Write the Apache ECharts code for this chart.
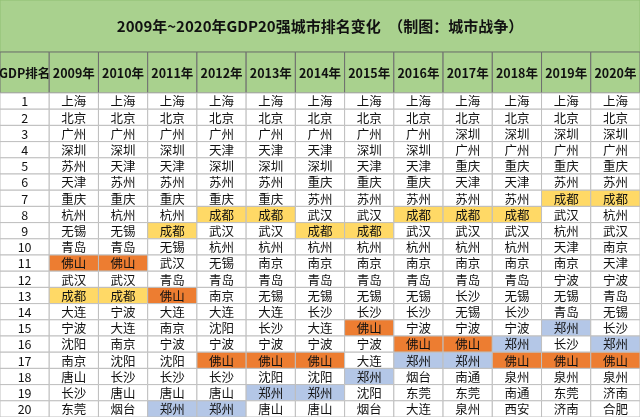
<!DOCTYPE html>
<html><head><meta charset="utf-8">
<script src="https://cdn.jsdelivr.net/npm/echarts@6/dist/echarts.min.js"></script>
<style>html,body{margin:0;padding:0;background:#fff}#c{width:640px;height:417px}</style>
</head><body><div id="c"></div>
<script>
const titleText = '2009年~2020年GDP20强城市排名变化　（制图：城市战争）';
const headers = ['GDP排名','2009年','2010年','2011年','2012年','2013年','2014年','2015年','2016年','2017年','2018年','2019年','2020年'];
const ranks = ['1','2','3','4','5','6','7','8','9','10','11','12','13','14','15','16','17','18','19','20'];
const y2009 = ['上海','北京','广州','深圳','苏州','天津','重庆','杭州','无锡','青岛','佛山','武汉','成都','大连','宁波','沈阳','南京','唐山','长沙','东莞'];
const y2010 = ['上海','北京','广州','深圳','天津','苏州','重庆','杭州','无锡','青岛','佛山','武汉','成都','宁波','大连','南京','沈阳','长沙','唐山','烟台'];
const y2011 = ['上海','北京','广州','深圳','天津','苏州','重庆','杭州','成都','无锡','武汉','青岛','佛山','大连','南京','宁波','沈阳','长沙','唐山','郑州'];
const y2012 = ['上海','北京','广州','天津','深圳','苏州','重庆','成都','武汉','杭州','无锡','青岛','南京','大连','沈阳','宁波','佛山','长沙','唐山','郑州'];
const y2013 = ['上海','北京','广州','天津','深圳','苏州','重庆','成都','武汉','杭州','南京','青岛','无锡','大连','长沙','宁波','佛山','沈阳','郑州','唐山'];
const y2014 = ['上海','北京','广州','天津','深圳','重庆','苏州','武汉','成都','杭州','南京','青岛','无锡','长沙','大连','宁波','佛山','沈阳','郑州','唐山'];
const y2015 = ['上海','北京','广州','深圳','天津','重庆','苏州','武汉','成都','杭州','南京','青岛','无锡','长沙','佛山','宁波','大连','郑州','沈阳','烟台'];
const y2016 = ['上海','北京','广州','深圳','天津','重庆','苏州','成都','武汉','杭州','南京','青岛','无锡','长沙','宁波','佛山','郑州','烟台','东莞','大连'];
const y2017 = ['上海','北京','深圳','广州','重庆','天津','苏州','成都','武汉','杭州','南京','青岛','长沙','无锡','宁波','佛山','郑州','南通','东莞','泉州'];
const y2018 = ['上海','北京','深圳','广州','重庆','天津','苏州','成都','武汉','杭州','南京','青岛','无锡','长沙','宁波','郑州','佛山','泉州','南通','西安'];
const y2019 = ['上海','北京','深圳','广州','重庆','苏州','成都','武汉','杭州','天津','南京','宁波','无锡','青岛','郑州','长沙','佛山','泉州','东莞','济南'];
const y2020 = ['上海','北京','深圳','广州','重庆','苏州','成都','杭州','武汉','南京','天津','宁波','青岛','无锡','长沙','郑州','佛山','泉州','济南','合肥'];
const years = [y2009,y2010,y2011,y2012,y2013,y2014,y2015,y2016,y2017,y2018,y2019,y2020];
const highlight = {'成都':'#ffd966','佛山':'#ed7d31','郑州':'#b4c7e7'};

const cols = headers.map((_,i)=>String(i));
const rowCats = ranks.map((_,i)=>String(i));
const headData = headers.map((h,i)=>[i,0,h]);
const bodyData = [];
ranks.forEach((r,ri)=>{
  bodyData.push([0,ri,r]);
  years.forEach((arr,yi)=>bodyData.push([yi+1,ri,arr[ri]]));
});
const FONT='"Noto Sans CJK SC", sans-serif';
function cell(data, bold, size, fillFn, strokeCol){
  return function(params, api){
    const c = api.coord([api.value(0), api.value(1)]);
    const s = api.size([1,1]);
    const d = data[params.dataIndex];
    const txt = d[2];
    const fill = fillFn(txt, d[0]);
    return {type:'group',children:[
      {type:'rect',shape:{x:c[0]-s[0]/2,y:c[1]-s[1]/2,width:s[0],height:s[1]},
       style:{fill:fill,stroke:strokeCol,lineWidth:1}},
      {type:'text',style:{text:txt,x:c[0],y:c[1]+0.5,align:'center',verticalAlign:'middle',
       font:(bold?'bold ':'')+size+'px '+FONT,fill:'#111'}}
    ]};
  };
}
const chart = echarts.init(document.getElementById('c'));
chart.setOption({
  animation:false,
  graphic:[
    {type:'rect',shape:{x:0,y:0,width:640,height:52},style:{fill:'#a9d18e',stroke:'#8fbf73'}},
    {type:'text',x:320,y:26,style:{text:titleText,align:'center',verticalAlign:'middle',font:'bold 15px '+FONT,fill:'#111'}}
  ],
  grid:[{left:0,right:0,top:52,height:41},{left:0,right:0,top:93,height:324}],
  xAxis:[{type:'category',data:cols,gridIndex:0,show:false},{type:'category',data:cols,gridIndex:1,show:false}],
  yAxis:[{type:'category',data:['0'],gridIndex:0,show:false},{type:'category',data:rowCats,gridIndex:1,show:false,inverse:true}],
  series:[
    {type:'custom',xAxisIndex:0,yAxisIndex:0,data:headData,renderItem:cell(headData,true,12.5,()=>'#a9d18e','#6f6f6f')},
    {type:'custom',xAxisIndex:1,yAxisIndex:1,data:bodyData,renderItem:cell(bodyData,false,12.5,(t,x)=>x>0&&highlight[t]?highlight[t]:'#ffffff','#bfbfbf')}
  ]
});
</script></body></html>
